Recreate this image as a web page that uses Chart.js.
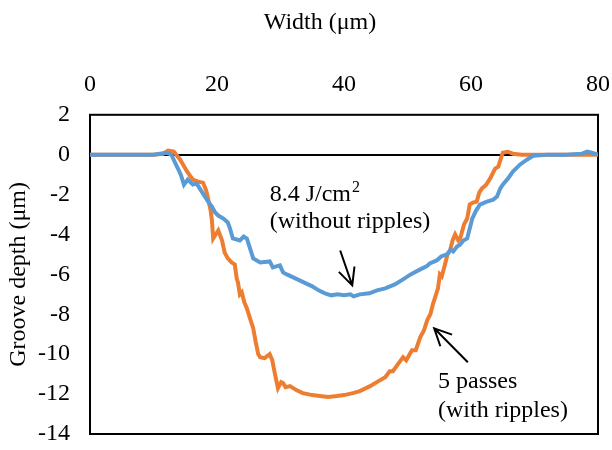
<!DOCTYPE html>
<html>
<head>
<meta charset="utf-8">
<script src="https://cdn.jsdelivr.net/npm/chart.js@4"></script>
<style>
  html, body { margin: 0; padding: 0; background: #fff; }
  #wrap { width: 612px; height: 450px; }
</style>
</head>
<body>
<div id="wrap"><canvas id="c" width="612" height="450"></canvas></div>
<script>
// ---- data ----
const xTicks = [0, 20, 40, 60, 80];
const yTicks = [2, 0, -2, -4, -6, -8, -10, -12, -14];

const blueX = [0, 5, 10, 11, 12, 12.8, 13.7, 14.3, 14.8, 15.4, 16.2, 16.8, 17.3, 18.1, 18.7, 19.2, 19.7, 20.2, 21, 21.7, 22, 22.5, 23.6, 24.2, 24.7, 25.2, 25.7, 26.8, 28.3, 28.8, 29.9, 30.4, 31, 32, 33, 34, 35, 36, 37, 38, 39, 40, 41, 41.5, 42.5, 44, 45.2, 46.5, 48, 49.3, 50.5, 52, 53, 53.5, 54.6, 55.3, 56.2, 56.8, 57.2, 57.8, 58.3, 58.8, 59.4, 59.8, 60.2, 60.8, 61.4, 62.5, 63.5, 64.1, 64.6, 65, 65.8, 66.6, 67.7, 68.8, 69.8, 72, 75, 77.5, 78.3, 79, 80];
const blueY = [0, 0, 0, 0.05, 0.1, 0, -0.6, -1.0, -1.5, -1.25, -1.5, -1.45, -1.7, -2.1, -2.4, -2.6, -2.9, -3.05, -3.2, -3.4, -3.65, -4.2, -4.3, -4.1, -4.2, -4.7, -5.2, -5.4, -5.35, -5.65, -5.55, -5.9, -6.0, -6.15, -6.3, -6.45, -6.6, -6.8, -6.95, -7.05, -7.0, -7.05, -7.0, -7.1, -7.0, -6.95, -6.8, -6.7, -6.5, -6.25, -6.0, -5.75, -5.6, -5.45, -5.3, -5.1, -5.0, -4.75, -4.85, -4.6, -4.5, -4.3, -4.2, -3.7, -3.2, -2.8, -2.5, -2.35, -2.25, -2.1, -1.7, -1.5, -1.2, -0.85, -0.5, -0.25, -0.05, 0, 0, 0.05, 0.15, 0.1, 0];

const orangeX = [0, 5, 10, 11.5, 12.3, 13.2, 14.2, 15.3, 16.2, 17, 17.8, 18.3, 18.6, 19, 19.2, 19.4, 20.2, 20.8, 21.2, 21.7, 22.3, 22.8, 23.1, 23.3, 23.6, 23.9, 24.3, 24.7, 25.2, 25.7, 26.1, 26.5, 26.8, 27.5, 28.3, 28.7, 29.1, 29.6, 30.1, 30.4, 30.8, 31.5, 32.5, 33.5, 35, 36.2, 37.5, 38.9, 40, 41.4, 42.5, 44.1, 45.7, 46.5, 47.2, 47.7, 48.5, 49.3, 49.8, 50.7, 51.3, 52, 52.6, 53.1, 53.6, 54, 54.4, 54.8, 55.1, 55.4, 55.9, 56.3, 56.7, 57.1, 57.5, 58, 58.3, 58.9, 59.4, 59.8, 60.3, 60.9, 61.3, 61.7, 62.4, 63, 63.8, 64.3, 64.7, 65, 65.8, 66.6, 68, 72, 76, 80];
const orangeY = [0, 0, 0, 0.05, 0.2, 0.15, -0.25, -0.85, -1.25, -1.35, -1.4, -1.8, -2.2, -2.8, -3.3, -4.2, -3.8, -4.3, -4.9, -5.2, -5.4, -5.5, -6.2, -6.4, -7.0, -6.9, -7.4, -7.7, -8.2, -8.7, -9.4, -10.0, -10.15, -10.2, -10.0, -10.3, -10.95, -11.7, -11.4, -11.45, -11.65, -11.6, -11.8, -11.95, -12.05, -12.1, -12.15, -12.1, -12.05, -11.95, -11.85, -11.6, -11.3, -11.15, -10.85, -10.85, -10.5, -10.15, -10.3, -9.8, -9.8, -9.15, -8.8, -8.3, -8.0, -7.5, -7.1, -6.7, -6.0, -6.1, -5.5, -5.0, -4.8, -4.3, -4.0, -4.3, -4.2, -3.5, -3.2, -2.5, -2.4, -2.35, -1.9, -1.7, -1.5, -1.2, -0.7, -0.6, -0.2, 0.1, 0.15, 0.05, 0, 0, 0, 0];

// annotation labels and arrows (in data units)
const noteLines = [
  { text: '8.4 J/cm', sup: '2', x: 28.3, y: -2.3 },
  { text: '(without ripples)', x: 28.3, y: -3.65 },
  { text: '5 passes', x: 54.8, y: -11.7 },
  { text: '(with ripples)', x: 54.8, y: -13.15 }
];
const arrows = [
  { x0: 39.4, y0: -4.8, x1: 41.3, y1: -6.55 },
  { x0: 59.5, y0: -10.4, x1: 54.2, y1: -8.7 }
];

function pts(xs, ys) { return xs.map((x, i) => ({ x: x, y: ys[i] })); }

const FONT = 'Liberation Serif, Times New Roman, serif';

const framePlugin = {
  id: 'frame',
  beforeDatasetsDraw(chart) {
    const { ctx, chartArea: a } = chart;
    ctx.save();
    ctx.strokeStyle = '#000';
    ctx.lineWidth = 2;
    ctx.strokeRect(a.left, a.top, a.right - a.left, a.bottom - a.top);
    ctx.restore();
  }
};

const notesPlugin = {
  id: 'notes',
  afterDatasetsDraw(chart) {
    const { ctx } = chart;
    const xs = chart.scales.x, ys = chart.scales.y;
    ctx.save();
    ctx.fillStyle = '#000';
    ctx.textBaseline = 'alphabetic';
    ctx.textAlign = 'left';
    noteLines.forEach(n => {
      const px = xs.getPixelForValue(n.x), py = ys.getPixelForValue(n.y);
      ctx.font = '24px ' + FONT;
      ctx.fillText(n.text, px, py);
      if (n.sup) {
        const w = ctx.measureText(n.text).width;
        ctx.font = '16px ' + FONT;
        ctx.fillText(n.sup, px + w + 1, py - 9);
      }
    });
    ctx.strokeStyle = '#000';
    ctx.lineWidth = 2;
    arrows.forEach(a => {
      const x0 = xs.getPixelForValue(a.x0), y0 = ys.getPixelForValue(a.y0);
      const x1 = xs.getPixelForValue(a.x1), y1 = ys.getPixelForValue(a.y1);
      const ang = Math.atan2(y1 - y0, x1 - x0);
      const L = 19, spread = 0.45;
      ctx.beginPath();
      ctx.moveTo(x0, y0); ctx.lineTo(x1, y1);
      ctx.moveTo(x1 - L * Math.cos(ang - spread), y1 - L * Math.sin(ang - spread));
      ctx.lineTo(x1, y1);
      ctx.lineTo(x1 - L * Math.cos(ang + spread), y1 - L * Math.sin(ang + spread));
      ctx.stroke();
    });
    ctx.restore();
  }
};

new Chart(document.getElementById('c'), {
  type: 'scatter',
  data: {
    datasets: [
      { label: '8.4 J/cm² (without ripples)', data: pts(blueX, blueY), showLine: true,
        borderColor: '#5B9BD5', backgroundColor: '#5B9BD5', borderWidth: 4, pointRadius: 0, tension: 0 },
      { label: '5 passes (with ripples)', data: pts(orangeX, orangeY), showLine: true,
        borderColor: '#ED7D31', backgroundColor: '#ED7D31', borderWidth: 4, pointRadius: 0, tension: 0 }
    ]
  },
  options: {
    responsive: false,
    animation: false,
    layout: { padding: { left: 28, right: 0, top: 0, bottom: 16 } },
    plugins: {
      legend: { display: false },
      tooltip: { enabled: false },
      title: {
        display: true, text: 'Width (μm)', color: '#000',
        font: { family: FONT, size: 24, weight: 'normal' },
        padding: { top: 8, bottom: 0 }
      }
    },
    scales: {
      x: {
        type: 'linear', position: 'top', min: 0, max: 80,
        afterBuildTicks: s => { s.ticks = xTicks.map(v => ({ value: v })); },
        afterFit: s => { s.height = 78; s.paddingLeft = 0; s.paddingRight = 0; },
        grid: { display: false, drawTicks: false },
        border: { display: false },
        ticks: { color: '#000', padding: 16, font: { family: FONT, size: 24 }, maxRotation: 0 }
      },
      y: {
        type: 'linear', position: 'left', min: -14, max: 2,
        afterBuildTicks: s => { s.ticks = yTicks.map(v => ({ value: v })); },
        afterFit: s => { s.width = 62; s.paddingTop = 0; s.paddingBottom = 0; },
        grid: { drawTicks: false, lineWidth: 2,
          color: c => (c.tick && c.tick.value === 0) ? '#000' : 'rgba(0,0,0,0)' },
        border: { display: false },
        ticks: { color: '#000', padding: 20, font: { family: FONT, size: 24 } },
        title: { display: true, text: 'Groove depth (μm)', color: '#000',
          font: { family: FONT, size: 24 }, padding: { top: -24, bottom: 0 } }
      },
      y2: {
        type: 'linear', position: 'right', display: true,
        afterFit: s => { s.width = 14; s.paddingTop = 0; s.paddingBottom = 0; },
        grid: { display: false, drawTicks: false },
        border: { display: false },
        ticks: { display: false }
      }
    }
  },
  plugins: [framePlugin, notesPlugin]
});
</script>
</body>
</html>
